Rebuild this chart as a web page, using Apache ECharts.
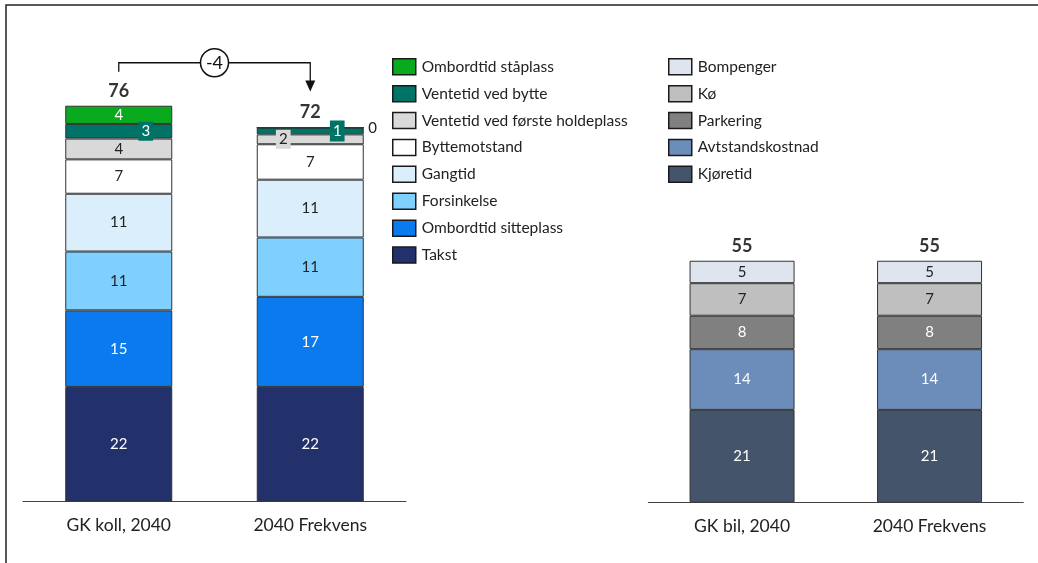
<!DOCTYPE html>
<html><head><meta charset="utf-8">
<script src="https://cdn.jsdelivr.net/npm/echarts@6/dist/echarts.min.js"></script>
<style>html,body{margin:0;padding:0;background:#fff}#c{width:1038px;height:563px}</style>
</head><body><div id="c"></div>
<script>
// ---------- DATA ----------
const kollCategories = ['GK koll, 2040', '2040 Frekvens'];
const bilCategories = ['GK bil, 2040', '2040 Frekvens'];

const kollNames = ['Takst', 'Ombordtid sitteplass', 'Forsinkelse', 'Gangtid', 'Byttemotstand',
  'Ventetid ved første holdeplass', 'Ventetid ved bytte', 'Ombordtid ståplass'];
const takst = [22.0, 22.0];
const ombordtidSitteplass = [14.7, 17.3];
const forsinkelse = [11.3, 11.4];
const gangtid = [11.1, 11.1];
const byttemotstand = [6.6, 6.8];
const ventetidForste = [4.0, 1.9];
const ventetidBytte = [2.8, 1.3];
const ombordtidStaplass = [3.5, 0];
const kollTotals = [76, 72];

const bilNames = ['Kjøretid', 'Avtstandskostnad', 'Parkering', 'Kø', 'Bompenger'];
const kjoretid = [21.0, 21.0];
const avstandskostnad = [13.8, 13.8];
const parkering = [7.6, 7.6];
const ko = [7.4, 7.4];
const bompenger = [5.1, 5.1];
const bilTotals = [55, 55];

// ---------- STYLE ----------
const FONT = 'Lato, "Open Sans", sans-serif';
const kollValues = [takst, ombordtidSitteplass, forsinkelse, gangtid, byttemotstand, ventetidForste, ventetidBytte, ombordtidStaplass];
const kollColors = ['#22306B', '#0A7AEE', '#7FCFFF', '#DAEEFB', '#FFFFFF', '#D9D9D9', '#007367', '#0AAA1E'];
const kollLabelColors = ['#fff', '#fff', '#222', '#222', '#222', '#222', '#fff', '#fff'];
const bilValues = [kjoretid, avstandskostnad, parkering, ko, bompenger];
const bilColors = ['#44546A', '#6C8CB9', '#808080', '#BFBFBF', '#DEE5EF'];
const bilLabelColors = ['#fff', '#fff', '#fff', '#222', '#222'];

const kollLabelTweaks = {
  5: {1: {offset: [-27, 0], backgroundColor: '#D9D9D9', padding: [2, 3]}},
  6: {0: {offset: [27, 0], backgroundColor: '#007367', padding: [2, 3]},
      1: {offset: [27, 0], backgroundColor: '#007367', padding: [3, 3]}},
  7: {1: {position: 'right', distance: 4, color: '#222', formatter: '0', offset: [0, 1]}}
};

const series = [];
kollNames.forEach((name, i) => {
  series.push({
    name, type: 'bar', stack: 'koll', xAxisIndex: 0, yAxisIndex: 0,
    barWidth: 107,
    itemStyle: {color: kollColors[i], borderColor: '#333', borderWidth: 1},
    label: {show: true, position: 'inside', color: kollLabelColors[i], fontSize: 15, fontFamily: FONT,
      formatter: p => String(Math.round(p.value))},
    data: kollValues[i].map((v, j) => {
      const t = kollLabelTweaks[i] && kollLabelTweaks[i][j];
      return t ? {value: v, label: Object.assign({}, t)} : {value: v};
    })
  });
});
bilNames.forEach((name, i) => {
  series.push({
    name, type: 'bar', stack: 'bil', xAxisIndex: 1, yAxisIndex: 1,
    barWidth: 105,
    itemStyle: {color: bilColors[i], borderColor: '#333', borderWidth: 1},
    label: {show: true, position: 'inside', color: bilLabelColors[i], fontSize: 15, fontFamily: FONT,
      formatter: p => String(Math.round(p.value))},
    data: bilValues[i]
  });
});
const kollSums = kollCategories.map((c, j) => kollValues.reduce((s, a) => s + a[j], 0));
const bilSums = bilCategories.map((c, j) => bilValues.reduce((s, a) => s + a[j], 0));
series.push({
  type: 'scatter', xAxisIndex: 0, yAxisIndex: 0, symbolSize: 0, silent: true,
  label: {show: true, position: 'top', distance: 6, color: '#000', fontSize: 18, fontWeight: 'bold', fontFamily: FONT,
    formatter: p => String(kollTotals[p.dataIndex])},
  data: kollSums.map((s, j) => [j, s])
});
series.push({
  type: 'scatter', xAxisIndex: 1, yAxisIndex: 1, symbolSize: 0, silent: true,
  label: {show: true, position: 'top', distance: 6, color: '#000', fontSize: 18, fontWeight: 'bold', fontFamily: FONT,
    formatter: p => String(bilTotals[p.dataIndex])},
  data: bilSums.map((s, j) => [j, s])
});

const legendCommon = {
  orient: 'vertical', padding: 0, itemWidth: 23, itemHeight: 16, itemGap: 9.4,
  icon: 'rect', selectedMode: false,
  itemStyle: {borderColor: '#1a1a1a', borderWidth: 1.5},
  textStyle: {fontSize: 15.5, lineHeight: 16, fontFamily: FONT, color: '#222', padding: [0, 0, 0, 1]}
};

const option = {
  animation: false,
  backgroundColor: '#fff',
  grid: [
    {left: 23, width: 383, top: 84.9, bottom: 61.5},
    {left: 648.3, width: 375, top: 238.3, bottom: 60.7}
  ],
  xAxis: [
    {type: 'category', gridIndex: 0, data: kollCategories,
      axisLine: {lineStyle: {color: '#444', width: 1}}, axisTick: {show: false},
      axisLabel: {fontSize: 17.5, fontFamily: FONT, color: '#222', margin: 15}},
    {type: 'category', gridIndex: 1, data: bilCategories,
      axisLine: {lineStyle: {color: '#444', width: 1}}, axisTick: {show: false},
      axisLabel: {fontSize: 17.5, fontFamily: FONT, color: '#222', margin: 15}}
  ],
  yAxis: [
    {type: 'value', gridIndex: 0, min: 0, max: 80, show: false},
    {type: 'value', gridIndex: 1, min: 0, max: 60, show: false}
  ],
  legend: [
    Object.assign({}, legendCommon, {left: 392, top: 58, data: kollNames.slice().reverse()}),
    Object.assign({}, legendCommon, {left: 668, top: 58, data: bilNames.slice().reverse()})
  ],
  series
};

const chart = echarts.init(document.getElementById('c'), null, {renderer: 'canvas'});
chart.setOption(option);

const p1 = chart.convertToPixel({xAxisIndex: 0, yAxisIndex: 0}, [0, kollSums[0]]);
const p2 = chart.convertToPixel({xAxisIndex: 0, yAxisIndex: 0}, [1, kollSums[1]]);
const yLine = p1[1] - 43;
const yStart = p1[1] - 34;
const yTip = p2[1] - 36;
const cx = (p1[0] + p2[0]) / 2;
const diff = kollTotals[1] - kollTotals[0];
chart.setOption({
  graphic: [
    {type: 'polyline', shape: {points: [[6, 563], [6, 5], [1038, 5]]}, style: {stroke: '#222', lineWidth: 1.5, fill: null}},
    {type: 'polyline', shape: {points: [[p1[0], yStart], [p1[0], yLine], [p2[0], yLine], [p2[0], yTip - 10]]},
      style: {stroke: '#111', lineWidth: 1.3, fill: null}},
    {type: 'polygon', shape: {points: [[p2[0] - 5, yTip - 11], [p2[0] + 5, yTip - 11], [p2[0], yTip]]}, style: {fill: '#111'}},
    {type: 'circle', shape: {cx: cx, cy: yLine, r: 14}, style: {fill: '#fff', stroke: '#111', lineWidth: 1.5}, z: 10},
    {type: 'text', x: cx, y: yLine, z: 11,
      style: {text: String(diff), fontSize: 18, fontFamily: FONT, fill: '#111', align: 'center', verticalAlign: 'middle'}}
  ]
});
</script>
</body></html>
